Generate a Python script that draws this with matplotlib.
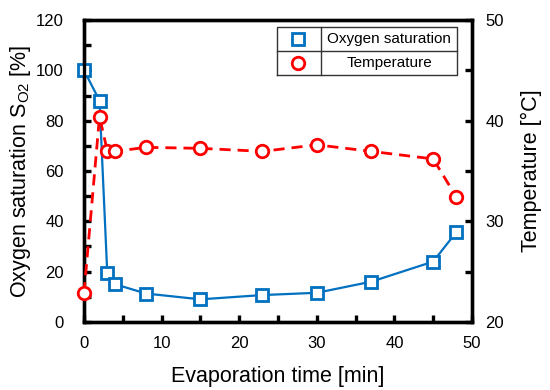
import matplotlib
matplotlib.use('Agg')
import matplotlib.pyplot as plt
from matplotlib.ticker import MultipleLocator

plt.rcParams['font.family'] = ['Liberation Sans', 'DejaVu Sans']
plt.rcParams['mathtext.fontset'] = 'custom'
plt.rcParams['mathtext.rm'] = 'Liberation Sans'
plt.rcParams['mathtext.it'] = 'Liberation Sans:italic'

# data
time_o2 = [0, 2, 3, 4, 8, 15, 23, 30, 37, 45, 48]
o2_sat = [100, 88, 19.4, 15, 11.3, 9, 10.7, 11.6, 16, 24, 35.8]
time_t = [0, 2, 3, 4, 8, 15, 23, 30, 37, 45, 48]
temp = [22.85, 40.4, 37.0, 36.95, 37.35, 37.25, 36.95, 37.6, 36.95, 36.2, 32.4]

blue = '#0070C0'
red = '#FF0000'

fig = plt.figure(figsize=(5.5, 3.9), dpi=100)
ax = fig.add_axes([0.1527, 0.1744, 0.7055, 0.7743])
ax2 = ax.twinx()

ax.plot(time_o2, o2_sat, color=blue, lw=1.6, marker='s', ms=8.5,
        mfc='white', mec=blue, mew=2, clip_on=False, zorder=3)
ax2.plot(time_t, temp, color=red, lw=2, ls=(0, (4, 2.5)), marker='o', ms=9,
         mfc='white', mec=red, mew=2, clip_on=False, zorder=3)

ax.set_xlim(0, 50)
ax.set_ylim(0, 120)
ax2.set_ylim(20, 50)

ax.xaxis.set_major_locator(MultipleLocator(10))
ax.xaxis.set_minor_locator(MultipleLocator(5))
ax.yaxis.set_major_locator(MultipleLocator(20))
ax.yaxis.set_minor_locator(MultipleLocator(10))
ax2.yaxis.set_major_locator(MultipleLocator(10))
ax2.yaxis.set_minor_locator(MultipleLocator(5))

for a in (ax, ax2):
    for s in a.spines.values():
        s.set_linewidth(2.4)
    a.tick_params(which='both', direction='in', length=5, width=2.4,
                  labelsize=12)
ax.tick_params(which='both', right=False, top=False)
ax.tick_params(axis='x', pad=10)
ax.tick_params(axis='y', pad=14.5)
ax2.tick_params(which='both', left=False)
ax2.tick_params(axis='y', pad=9.5)

ax.set_xlabel('Evaporation time [min]', fontsize=15.5, labelpad=11)
ax.set_ylabel(r'Oxygen saturation $\mathrm{S_{O2}}$ [%]', fontsize=15.5, labelpad=2)
ax2.set_ylabel('Temperature [°C]', fontsize=15.5, labelpad=12)

# table-style legend
x0, x1, xm = 0.497, 0.961, 0.612
y0, y1, ym = 0.818, 0.977, 0.898
kw = dict(transform=ax2.transAxes, color='#333333', lw=1, zorder=5)
ax2.plot([x0, x1, x1, x0, x0], [y0, y0, y1, y1, y0], **kw)
ax2.plot([xm, xm], [y0, y1], **kw)
ax2.plot([x0, x1], [ym, ym], **kw)
ax2.plot([0.552], [(y1 + ym) / 2], transform=ax2.transAxes, marker='s', ms=8.5,
         mfc='white', mec=blue, mew=2, ls='none', zorder=6)
ax2.plot([0.552], [(y0 + ym) / 2], transform=ax2.transAxes, marker='o', ms=9,
         mfc='white', mec=red, mew=2, ls='none', zorder=6)
ax2.text((xm + x1) / 2, (y1 + ym) / 2, 'Oxygen saturation', transform=ax2.transAxes,
         ha='center', va='center', fontsize=11)
ax2.text((xm + x1) / 2, (y0 + ym) / 2, 'Temperature', transform=ax2.transAxes,
         ha='center', va='center', fontsize=11)

fig.savefig('out.png', dpi=100)
